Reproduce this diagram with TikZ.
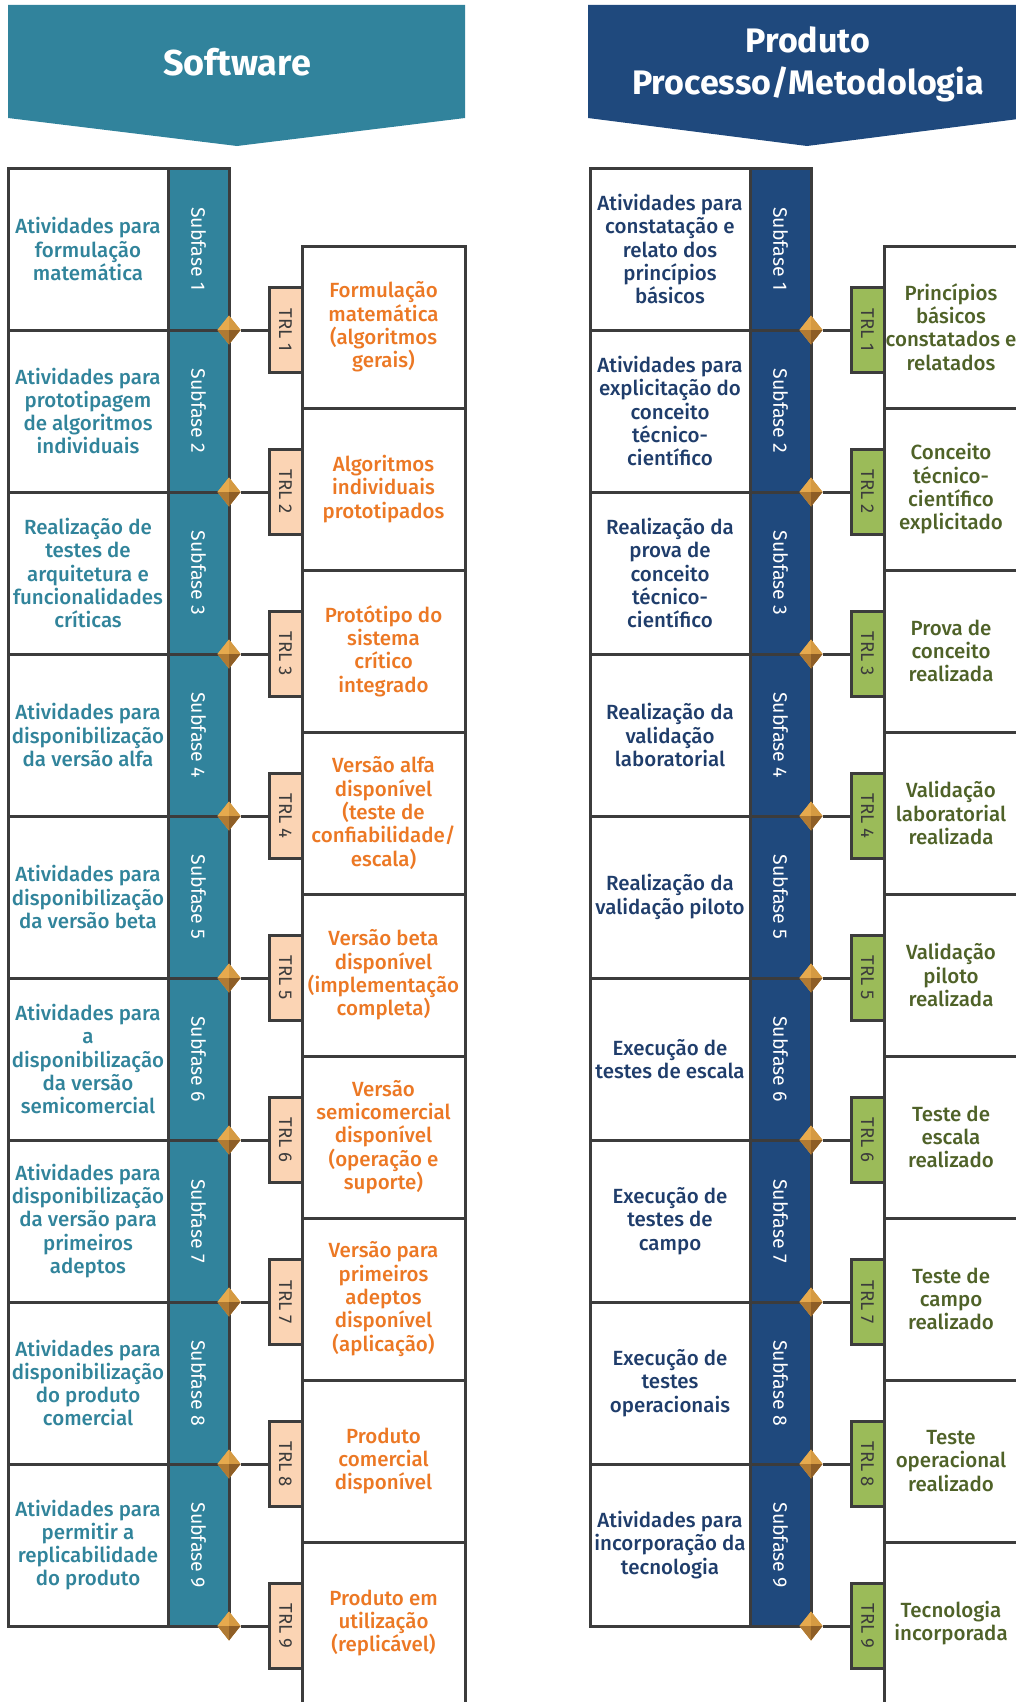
\documentclass[tikz,border=0pt]{standalone}
\usepackage{fontspec}
\setmainfont{Fira Sans}[UprightFont=* Medium, BoldFont=* Bold]
\newfontfamily\regfont{Fira Sans}
\usetikzlibrary{shapes.geometric}
\definecolor{swTeal}{HTML}{31839C}
\definecolor{ppNavy}{HTML}{1F497D}
\definecolor{swText}{HTML}{31849B}
\definecolor{ppText}{HTML}{1F3D6B}
\definecolor{orText}{HTML}{EC7824}
\definecolor{grText}{HTML}{4F6228}
\definecolor{peach}{HTML}{FBD4B4}
\definecolor{trlGreen}{HTML}{9BBB59}
\definecolor{lineC}{HTML}{3C3C3C}
\definecolor{dNW}{HTML}{E6AA4E}
\definecolor{dNE}{HTML}{D59A42}
\definecolor{dSW}{HTML}{B07A33}
\definecolor{dSE}{HTML}{8E5E26}
\newcommand{\bodyfnt}{\fontsize{20.5}{23.3}\selectfont}
\begin{document}
\begin{tikzpicture}[x=1pt,y=-1pt,
  frame/.style={draw=lineC, line width=3pt},
  actbox/.style={frame, fill=white, minimum width=160pt, minimum height=162pt, inner sep=0pt, outer sep=0pt, align=center, font=\bodyfnt},
  colbox/.style={frame, minimum width=61pt, minimum height=162pt, inner sep=0pt, outer sep=0pt},
  subtxt/.style={rotate=-90, text=white, inner sep=0pt, font=\regfont\fontsize{19.5}{22}\selectfont},
  trlbox/.style={frame, minimum width=33pt, minimum height=85pt, inner sep=0pt, outer sep=0pt},
  trltxt/.style={rotate=-90, text=lineC, inner sep=0pt, font=\regfont\fontsize{18.5}{20}\selectfont},
  resbox/.style={frame, fill=white, minimum height=162pt, inner sep=0pt, outer sep=0pt, align=center, font=\bodyfnt},
  diam/.style={shape=diamond, minimum width=23pt, minimum height=29pt, inner sep=0pt, outer sep=0pt, fill=dNE},
  bantxt/.style={text=white, align=center, inner sep=0pt, font=\bfseries\fontsize{36}{42}\selectfont}
]
\useasboundingbox (0,0) rectangle (1016,1702);
\clip (0,0) rectangle (1016,1702);

% banners
\fill[swTeal] (8,5) -- (465,5) -- (465,118) -- (237,146) -- (8,118) -- cycle;
\node[bantxt] (swTitle) at (237,62) {Software};
\fill[ppNavy] (588,5) -- (1026,5) -- (1026,118) -- (807,146) -- (588,118) -- cycle;
\node[bantxt, font=\bfseries\fontsize{34}{42}\selectfont] (ppTitle) at (808,64) {Produto\\Processo/Metodologia};

% ---------------- Software ----------------
\foreach \i/\a/\b in {
 1/{Atividades para\\formulação\\matemática}/{Formulação\\matemática\\(algoritmos\\gerais)},
 2/{Atividades para\\prototipagem\\de algoritmos\\individuais}/{Algoritmos\\individuais\\prototipados},
 3/{Realização de\\testes de\\arquitetura e\\funcionalidades\\críticas}/{Protótipo do\\sistema\\crítico\\integrado},
 4/{Atividades para\\disponibilização\\da versão alfa}/{Versão alfa\\disponível\\(teste de\\confiabilidade/\\escala)},
 5/{Atividades para\\disponibilização\\da versão beta}/{Versão beta\\disponível\\(implementação\\completa)},
 6/{Atividades para\\a\\disponibilização\\da versão\\semicomercial}/{Versão\\semicomercial\\disponível\\(operação e\\suporte)},
 7/{Atividades para\\disponibilização\\da versão para\\primeiros\\adeptos}/{Versão para\\primeiros\\adeptos\\disponível\\(aplicação)},
 8/{Atividades para\\disponibilização\\do produto\\comercial}/{Produto\\comercial\\disponível},
 9/{Atividades para\\permitir a\\replicabilidade\\do produto}/{Produto em\\utilização\\(replicável)}} {
  \node[resbox, minimum width=163pt, text=orText] (sR\i) at (383.5,{165+162*\i}) {\b};
  \node[actbox, text=swText] (sL\i) at (88,{87+162*\i}) {\a};
  \node[colbox, fill=swTeal] (sC\i) at (198.5,{87+162*\i}) {};
  \node[subtxt] (sS\i) at (sC\i.center) {Subfase \i};
}
\foreach \i in {1,...,9} {
  \node[diam] (sD\i) at (229,{168+162*\i}) {};
  \fill[dNW] (sD\i.center) -- (sD\i.west) -- (sD\i.north) -- cycle;
  \fill[dNE] (sD\i.center) -- (sD\i.north) -- (sD\i.east) -- cycle;
  \fill[dSW] (sD\i.center) -- (sD\i.west) -- (sD\i.south) -- cycle;
  \fill[dSE] (sD\i.center) -- (sD\i.south) -- (sD\i.east) -- cycle;
  \node[trlbox, fill=peach] (sT\i) at (285.5,{168+162*\i}) {};
  \node[trltxt] (sTt\i) at (sT\i.center) {TRL \i};
  \draw[frame] (sD\i.east) -- (sT\i.west);
}

% ---------------- Produto ----------------
\foreach \i/\a/\b in {
 1/{Atividades para\\constatação e\\relato dos\\princípios\\básicos}/{Princípios\\básicos\\constatados e\\relatados},
 2/{Atividades para\\explicitação do\\conceito\\técnico-\\científico}/{Conceito\\técnico-\\científico\\explicitado},
 3/{Realização da\\prova de\\conceito\\técnico-\\científico}/{Prova de\\conceito\\realizada},
 4/{Realização da\\validação\\laboratorial}/{Validação\\laboratorial\\realizada},
 5/{Realização da\\validação piloto}/{Validação\\piloto\\realizada},
 6/{Execução de\\testes de escala}/{Teste de\\escala\\realizado},
 7/{Execução de\\testes de\\campo}/{Teste de\\campo\\realizado},
 8/{Execução de\\testes\\operacionais}/{Teste\\operacional\\realizado},
 9/{Atividades para\\incorporação da\\tecnologia}/{Tecnologia\\incorporada}} {
  \node[resbox, minimum width=134pt, text=grText] (pR\i) at (951,{165+162*\i}) {\b};
  \node[actbox, text=ppText] (pL\i) at (670,{87+162*\i}) {\a};
  \node[colbox, fill=ppNavy] (pC\i) at (780.5,{87+162*\i}) {};
  \node[subtxt] (pS\i) at (pC\i.center) {Subfase \i};
}
\foreach \i in {1,...,9} {
  \node[diam] (pD\i) at (811,{168+162*\i}) {};
  \fill[dNW] (pD\i.center) -- (pD\i.west) -- (pD\i.north) -- cycle;
  \fill[dNE] (pD\i.center) -- (pD\i.north) -- (pD\i.east) -- cycle;
  \fill[dSW] (pD\i.center) -- (pD\i.west) -- (pD\i.south) -- cycle;
  \fill[dSE] (pD\i.center) -- (pD\i.south) -- (pD\i.east) -- cycle;
  \node[trlbox, fill=trlGreen] (pT\i) at (867.5,{168+162*\i}) {};
  \node[trltxt] (pTt\i) at (pT\i.center) {TRL \i};
  \draw[frame] (pD\i.east) -- (pT\i.west);
}
\end{tikzpicture}
\end{document}
